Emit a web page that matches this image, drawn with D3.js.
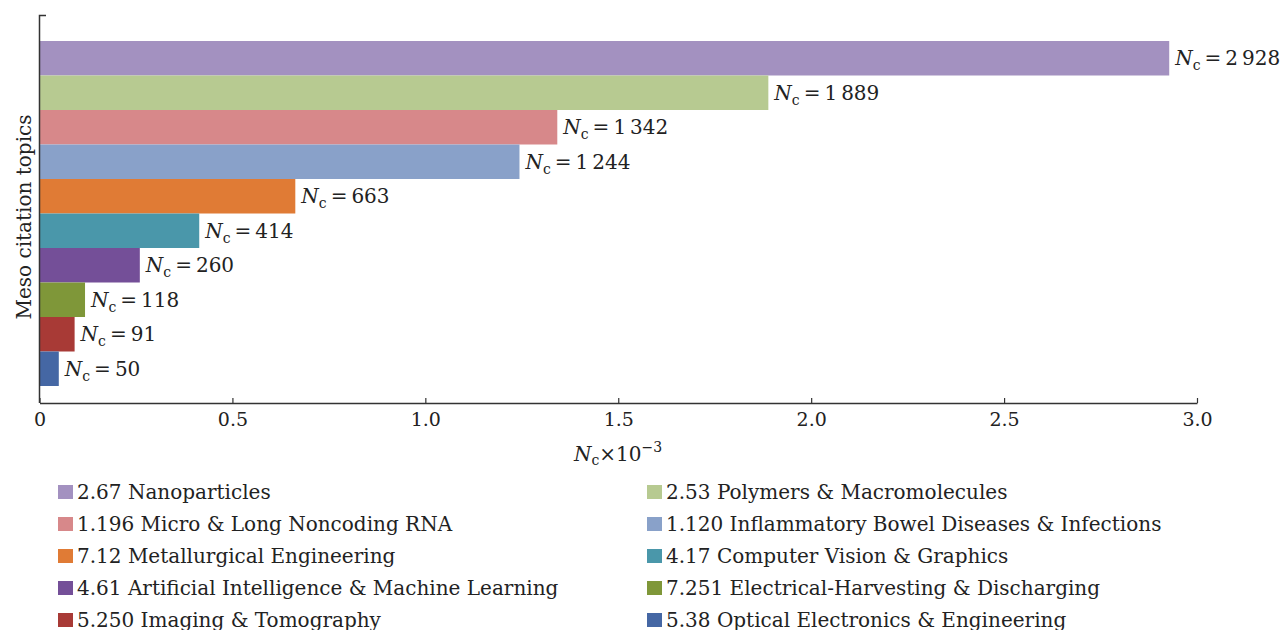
<!DOCTYPE html>
<html>
<head>
<meta charset="utf-8">
<script src="https://cdn.jsdelivr.net/npm/d3@7"></script>
<style>
  body { margin: 0; background: #fff; }
  svg text { font-family: "DejaVu Serif", "Liberation Serif", serif; fill: #222; }
</style>
</head>
<body>
<div id="chart"></div>
<script>
// meso topic ids, names, paper counts and colours (top bar first)
const topicIds = ["2.67", "2.53", "1.196", "1.120", "7.12", "4.17", "4.61", "7.251", "5.250", "5.38"];
const topicNames = ["Nanoparticles", "Polymers & Macromolecules", "Micro & Long Noncoding RNA",
  "Inflammatory Bowel Diseases & Infections", "Metallurgical Engineering", "Computer Vision & Graphics",
  "Artificial Intelligence & Machine Learning", "Electrical-Harvesting & Discharging",
  "Imaging & Tomography", "Optical Electronics & Engineering"];
const counts = [2928, 1889, 1342, 1244, 663, 414, 260, 118, 91, 50];
const colors = ["#a391c0", "#b7ca91", "#d7888a", "#89a1c9", "#e07b35", "#4a97aa", "#744f98", "#7f9739", "#a83a36", "#4567a4"];
const xTicks = [0, 0.5, 1.0, 1.5, 2.0, 2.5, 3.0];

let W = 1282, H = 630;
let svg = d3.select("#chart").append("svg").attr("width", W).attr("height", H);

let x = d3.scaleLinear().domain([0, 3.0]).range([39.5, 1197]);
let y = d3.scaleBand().domain(topicIds).range([41, 386]).padding(0);

// thin space thousands
let fmt = function(v){
  let s = String(v);
  return s.length > 3 ? s.slice(0, s.length - 3) + "\u2009" + s.slice(-3) : s;
};

// bars
svg.selectAll(".bar")
  .data(counts)
  .enter()
  .append("rect")
  .attr("class", "bar")
  .attr("x", x(0))
  .attr("y", (d, i) => y(topicIds[i]))
  .attr("width", d => x(d / 1000) - x(0))
  .attr("height", y.bandwidth())
  .attr("fill", (d, i) => colors[i]);

// value labels: N_c = ...
let lab = svg.selectAll(".vlab")
  .data(counts)
  .enter()
  .append("text")
  .attr("class", "vlab")
  .attr("x", d => x(d / 1000) + 6)
  .attr("y", (d, i) => y(topicIds[i]) + y.bandwidth() / 2 + 7)
  .style("font-size", "20px");
lab.append("tspan").style("font-style", "italic").text("N");
lab.append("tspan").attr("dy", 5).style("font-size", "14px").text("c");
lab.append("tspan").attr("dy", -5).text("\u2009=\u2009");
lab.append("tspan").text(d => fmt(d));

// x axis
let xAxis = d3.axisBottom(x).tickValues(xTicks)
  .tickFormat((d, i) => i == 0 ? "0" : d3.format(".1f")(d))
  .tickSize(-5).tickSizeOuter(0).tickPadding(10);
let gx = svg.append("g").attr("transform", "translate(0,403)").call(xAxis);
gx.select(".domain").attr("stroke", "#333").attr("stroke-width", 1.5);
gx.selectAll(".tick line").attr("stroke", "#333").attr("stroke-width", 1.2);
gx.selectAll(".tick text").style("font-size", "19px").style("font-family", "DejaVu Serif, serif").attr("fill", "#222");

// y axis line with top tick
svg.append("path")
  .attr("d", "M46,15.5H39.5V403")
  .attr("fill", "none")
  .attr("stroke", "#333")
  .attr("stroke-width", 1.5);

// axis labels
let xl = svg.append("text")
  .attr("x", 618).attr("y", 461)
  .attr("text-anchor", "middle")
  .style("font-size", "20px");
xl.append("tspan").style("font-style", "italic").text("N");
xl.append("tspan").attr("dy", 4).style("font-size", "14px").text("c");
xl.append("tspan").attr("dy", -4).text("\u00d710");
xl.append("tspan").attr("dy", -9).style("font-size", "14px").text("\u22123");

svg.append("text")
  .attr("transform", "translate(31,217) rotate(-90)")
  .attr("text-anchor", "middle")
  .style("font-size", "20px")
  .text("Meso citation topics");

// legend, two columns
let leg = svg.selectAll(".leg")
  .data(topicIds)
  .enter()
  .append("g")
  .attr("class", "leg")
  .attr("transform", (d, i) => "translate(" + (i % 2 == 0 ? 58 : 647) + "," + (492 + Math.floor(i / 2) * 32) + ")");
leg.append("rect")
  .attr("x", 0).attr("y", -7)
  .attr("width", 15).attr("height", 14)
  .attr("fill", (d, i) => colors[i]);
leg.append("text")
  .attr("x", 19).attr("y", 7)
  .style("font-size", "20px")
  .text((d, i) => d + " " + topicNames[i]);
</script>
</body>
</html>
